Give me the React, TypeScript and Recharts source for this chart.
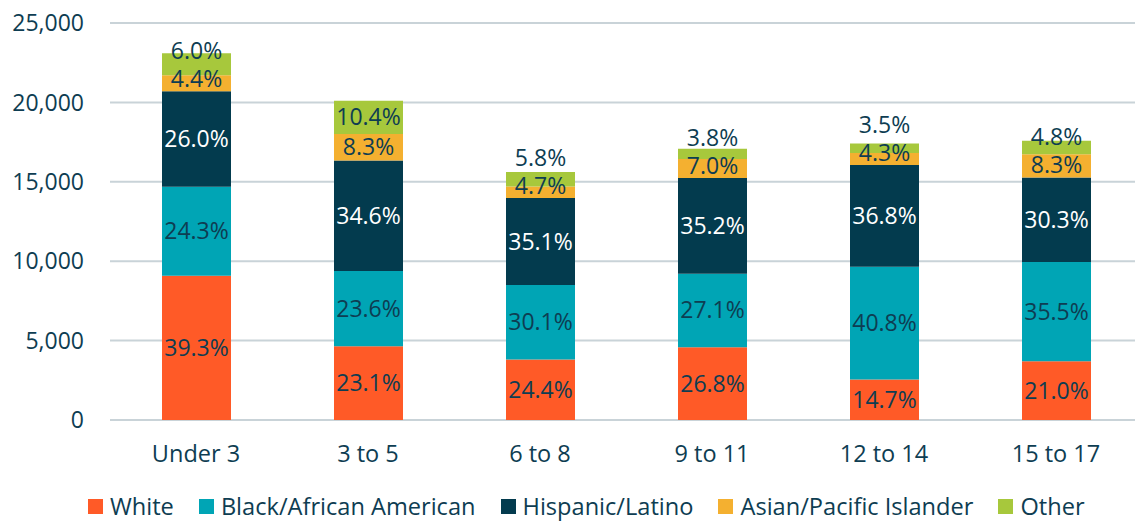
import React from 'react';
import { BarChart, Bar, XAxis, YAxis, CartesianGrid, Legend, LabelList } from 'recharts';

const categories = ['Under 3', '3 to 5', '6 to 8', '9 to 11', '12 to 14', '15 to 17'];

// children counts per age group
const white = [9078, 4643, 3806, 4583, 2558, 3696];
const black = [5613, 4744, 4696, 4634, 7099, 6248];
const hispanic = [6006, 6955, 5476, 6019, 6403, 5333];
const asian = [1016, 1668, 733, 1197, 748, 1461];
const other = [1386, 2090, 905, 650, 609, 845];

// share labels printed on the segments
const whitePct = ['39.3%', '23.1%', '24.4%', '26.8%', '14.7%', '21.0%'];
const blackPct = ['24.3%', '23.6%', '30.1%', '27.1%', '40.8%', '35.5%'];
const hispanicPct = ['26.0%', '34.6%', '35.1%', '35.2%', '36.8%', '30.3%'];
const asianPct = ['4.4%', '8.3%', '4.7%', '7.0%', '4.3%', '8.3%'];
const otherPct = ['6.0%', '10.4%', '5.8%', '3.8%', '3.5%', '4.8%'];

const yTicks = [0, 5000, 10000, 15000, 20000, 25000];

const TEXT = '#0e3d52';
const FONT = '"Open Sans", sans-serif';

const series = [
  { key: 'white', name: 'White', color: '#ff5a27', text: TEXT, labels: whitePct },
  { key: 'black', name: 'Black/African American', color: '#00a5b5', text: TEXT, labels: blackPct },
  { key: 'hispanic', name: 'Hispanic/Latino', color: '#033b4e', text: '#ffffff', labels: hispanicPct },
  { key: 'asian', name: 'Asian/Pacific Islander', color: '#f4b030', text: TEXT, labels: asianPct },
  { key: 'other', name: 'Other', color: '#a7c83c', text: TEXT, labels: otherPct },
];
const seriesOrder = series.map((s) => s.name);

const data = categories.map((category, i) => ({
  category,
  white: white[i],
  black: black[i],
  hispanic: hispanic[i],
  asian: asian[i],
  other: other[i],
}));

// small segments: keep asian label clear of the segment bottom, push "other" above it
const asianCenter = (y: number, h: number) => Math.min(y + h / 2, y + h - 12);

const makeLabel = (key: string, labels: string[], color: string) => (props: any) => {
  const x = Number(props.x);
  const y = Number(props.y);
  const w = Number(props.width);
  const h = Number(props.height);
  const i = props.index;
  let cy = y + h / 2;
  if (key === 'asian') {
    cy = asianCenter(y, h);
  } else if (key === 'other') {
    const ah = (h * asian[i]) / other[i];
    cy = Math.min(cy, asianCenter(y + h, ah) - 28);
  }
  return (
    <text
      x={x + w / 2}
      y={cy}
      dy="0.35em"
      textAnchor="middle"
      fill={color}
      fontSize={23}
      fontFamily={FONT}
    >
      {labels[i]}
    </text>
  );
};

const LegendContent = (props: any) => {
  const items = [...(props.payload || [])].sort(
    (a: any, b: any) => seriesOrder.indexOf(a.value) - seriesOrder.indexOf(b.value)
  );
  return (
    <div style={{ display: 'flex', alignItems: 'center', height: 28, fontFamily: FONT, fontSize: 23.6, lineHeight: '28px', color: TEXT, whiteSpace: 'nowrap' }}>
      {items.map((item: any) => (
        <div key={item.value} style={{ display: 'flex', alignItems: 'center', marginRight: 25 }}>
          <span style={{ width: 15, height: 15, background: item.color, marginRight: 7, display: 'inline-block' }} />
          <span>{item.value}</span>
        </div>
      ))}
    </div>
  );
};

export default function App() {
  return (
    <div style={{ position: 'absolute', left: 0, top: 0, width: 1135, height: 521, background: '#fff' }}>
      <BarChart width={1135} height={521} data={data} margin={{ top: 23, right: -7, left: 0, bottom: 0 }}>
        <CartesianGrid vertical={false} stroke="#c9d3d8" strokeWidth={2} />
        <XAxis
          dataKey="category"
          axisLine={false}
          tickLine={false}
          tickSize={0}
          tickMargin={25}
          height={73}
          tick={{ fill: TEXT, fontSize: 23.5, fontFamily: FONT }}
        />
        <YAxis
          domain={[0, 25000]}
          ticks={yTicks}
          width={110}
          axisLine={false}
          tickLine={false}
          tickSize={6}
          tickMargin={20}
          tickFormatter={(v: number) => v.toLocaleString('en-US')}
          tick={{ fill: TEXT, fontSize: 23, fontFamily: FONT }}
        />
        <Legend
          content={<LegendContent />}
          verticalAlign="bottom"
          wrapperStyle={{ top: 492, left: 88, bottom: 'auto', width: 'auto' }}
        />
        {series.map((s) => (
          <Bar key={s.key} dataKey={s.key} name={s.name} stackId="a" fill={s.color} barSize={69} isAnimationActive={false}>
            <LabelList dataKey={s.key} content={makeLabel(s.key, s.labels, s.text)} />
          </Bar>
        ))}
      </BarChart>
    </div>
  );
}
